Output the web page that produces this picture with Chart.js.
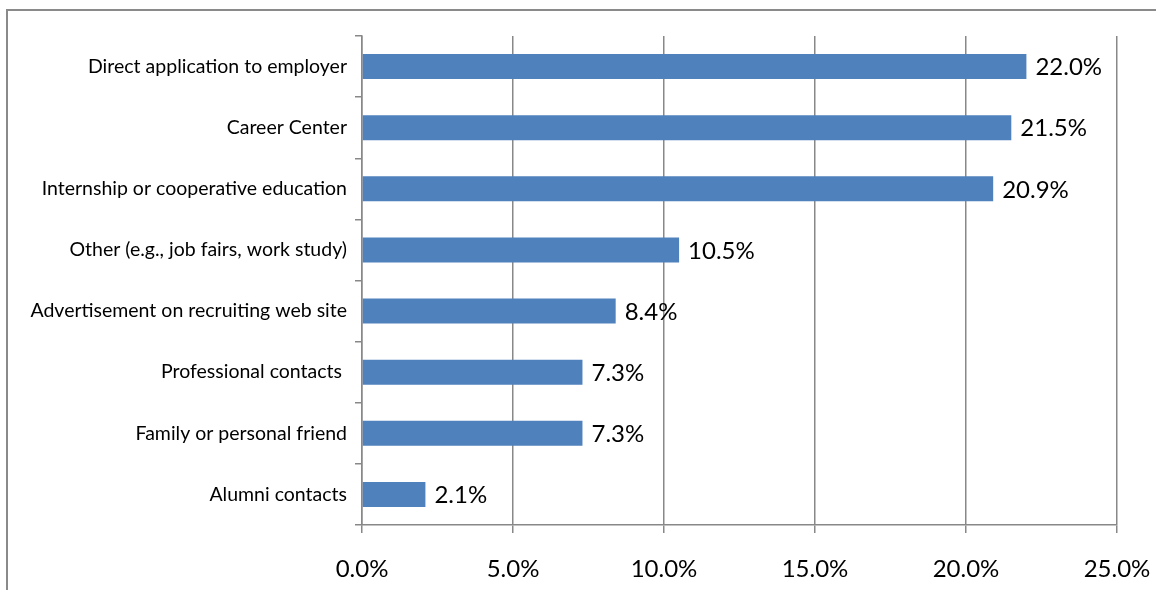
<!DOCTYPE html>
<html>
<head>
<meta charset="utf-8">
<script src="https://cdn.jsdelivr.net/npm/chart.js@4"></script>
<style>
  html, body { margin: 0; padding: 0; background: #fff; }
  #wrap { position: relative; width: 1156px; height: 590px; overflow: hidden; }
  #frame { position: absolute; left: 6px; top: 9px; width: 1200px; height: 700px; border: 2px solid #8a8a8a; box-sizing: border-box; }
  canvas { position: absolute; left: 0; top: 0; }
</style>
</head>
<body>
<div id="wrap">
  <div id="frame"></div>
  <canvas id="chart" width="1156" height="590"></canvas>
</div>
<script>
// Sources of employment, share of respondents
const categories = [
    'Direct application to employer',
    'Career Center',
    'Internship or cooperative education',
    'Other (e.g., job fairs, work study)',
    'Advertisement on recruiting web site',
    'Professional contacts ',
    'Family or personal friend',
    'Alumni contacts'
];
const shares = [22.0, 21.5, 20.9, 10.5, 8.4, 7.3, 7.3, 2.1];
const tickValues = [0, 5, 10, 15, 20, 25];

const font = 'Lato, "Open Sans", sans-serif';

// value labels to the right of each bar
const valueLabels = {
    id: 'valueLabels',
    afterDatasetsDraw(chart) {
        const ctx = chart.ctx;
        const meta = chart.getDatasetMeta(0);
        ctx.save();
        ctx.font = '24px ' + font;
        ctx.fillStyle = '#000';
        ctx.textBaseline = 'middle';
        ctx.textAlign = 'left';
        meta.data.forEach(function(bar, i) {
            ctx.fillText(shares[i].toFixed(1) + '%', bar.x + 9, bar.y + 1);
        });
        ctx.restore();
    }
};

new Chart(document.getElementById('chart'), {
    type: 'bar',
    data: {
        labels: categories,
        datasets: [{
            data: shares,
            backgroundColor: '#4f81bd',
            borderWidth: 0,
            categoryPercentage: 1,
            barPercentage: 0.41
        }]
    },
    options: {
        indexAxis: 'y',
        responsive: false,
        animation: false,
        devicePixelRatio: 1,
        layout: { padding: { top: 36, right: 39, left: 0, bottom: 0 } },
        plugins: {
            legend: { display: false },
            tooltip: { enabled: false }
        },
        scales: {
            x: {
                min: 0,
                max: 25,
                afterBuildTicks(scale) {
                    scale.ticks = tickValues.map(v => ({ value: v }));
                },
                afterFit(scale) {
                    scale.height = 65;
                    scale.paddingLeft = 0;
                    scale.paddingRight = 0;
                },
                grid: {
                    color: '#888',
                    lineWidth: 1.5,
                    tickLength: 8
                },
                border: { color: '#888', width: 1.5 },
                ticks: {
                    padding: 22,
                    color: '#000',
                    font: { family: font, size: 24 },
                    callback: v => v.toFixed(1) + '%'
                }
            },
            y: {
                afterFit(scale) {
                    scale.width = 362;
                    scale.paddingTop = 0;
                    scale.paddingBottom = 0;
                },
                grid: {
                    drawOnChartArea: false,
                    color: '#888',
                    lineWidth: 1.5,
                    tickLength: 7
                },
                border: { color: '#888', width: 1.5 },
                ticks: {
                    padding: 8,
                    color: '#000',
                    font: { family: font, size: 19.5 }
                }
            }
        }
    },
    plugins: [valueLabels]
});
</script>
</body>
</html>
